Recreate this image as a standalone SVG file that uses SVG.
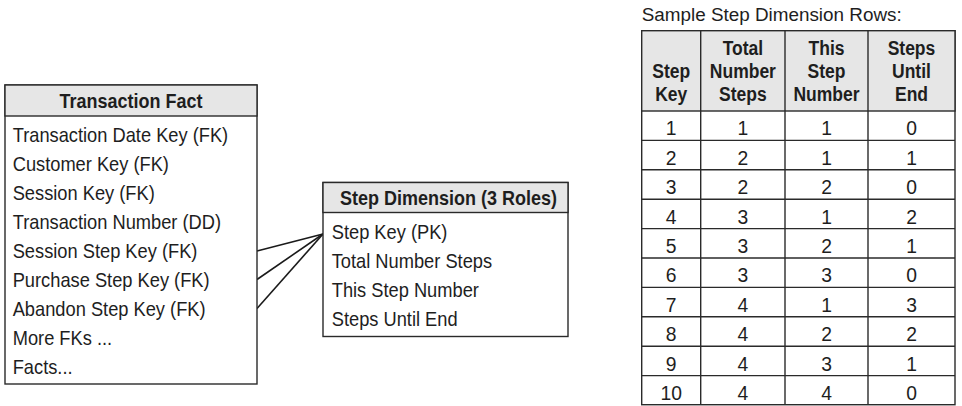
<svg xmlns="http://www.w3.org/2000/svg" width="962" height="406" viewBox="0 0 962 406">
<style>
  .box { fill: #ffffff; stroke: #2a2a2a; stroke-width: 1.4; }
  .hdr { fill: #e6e6e6; stroke: #2a2a2a; stroke-width: 1.4; }
  .ln { stroke: #2a2a2a; stroke-width: 1.4; fill: none; }
  .conn { stroke: #1a1a1a; stroke-width: 1.6; fill: none; }
  .t { font-family: "Liberation Sans", Arial, sans-serif; font-size: 21px; fill: #1e1e1e; }
  .tb { font-family: "Liberation Sans", Arial, sans-serif; font-size: 20px; font-weight: bold; fill: #1e1e1e; text-anchor: middle; }
  .th { font-family: "Liberation Sans", Arial, sans-serif; font-size: 20px; font-weight: bold; fill: #1e1e1e; text-anchor: middle; }
  .td { font-family: "Liberation Sans", Arial, sans-serif; font-size: 21px; fill: #1e1e1e; text-anchor: middle; }
  .title { font-family: "Liberation Sans", Arial, sans-serif; font-size: 18px; fill: #1e1e1e; }
</style>

<g id="connectors">
  <line class="conn" x1="257" y1="251" x2="323" y2="234"/>
  <line class="conn" x1="257" y1="279.5" x2="323" y2="234"/>
  <line class="conn" x1="257" y1="308.5" x2="323" y2="234"/>
</g>

<g id="transaction-fact">
  <rect class="box" x="5" y="85" width="252" height="299"/>
  <rect class="hdr" x="5" y="85" width="252" height="31"/>
  <g transform="scale(0.9 1)">
    <text class="tb" x="145.6" y="108.5">Transaction Fact</text>
  </g>
  <g transform="scale(0.87 1)">
    <text class="t" x="14.6" y="141.7">Transaction Date Key (FK)</text>
    <text class="t" x="14.6" y="170.7">Customer Key (FK)</text>
    <text class="t" x="14.6" y="199.7">Session Key (FK)</text>
    <text class="t" x="14.6" y="228.7">Transaction Number (DD)</text>
    <text class="t" x="14.6" y="257.7">Session Step Key (FK)</text>
    <text class="t" x="14.6" y="286.7">Purchase Step Key (FK)</text>
    <text class="t" x="14.6" y="315.7">Abandon Step Key (FK)</text>
    <text class="t" x="14.6" y="344.7">More FKs ...</text>
    <text class="t" x="14.6" y="373.7">Facts...</text>
  </g>
</g>

<g id="step-dimension">
  <rect class="box" x="323" y="182.5" width="245" height="154"/>
  <rect class="hdr" x="323" y="182.5" width="245" height="30"/>
  <g transform="scale(0.9 1)">
    <text class="tb" x="498.3" y="205.5">Step Dimension (3 Roles)</text>
  </g>
  <g transform="scale(0.87 1)">
    <text class="t" x="381.3" y="239">Step Key (PK)</text>
    <text class="t" x="381.3" y="268">Total Number Steps</text>
    <text class="t" x="381.3" y="297">This Step Number</text>
    <text class="t" x="381.3" y="326">Steps Until End</text>
  </g>
</g>

<g id="sample-rows">
  <text class="title" x="641.7" y="20.5" textLength="260" lengthAdjust="spacingAndGlyphs">Sample Step Dimension Rows:</text>
  <rect class="box" x="641.7" y="30.7" width="313.3" height="374"/>
  <rect class="hdr" x="641.7" y="30.7" width="313.3" height="80.3"/>
  <line class="ln" x1="700.7" y1="30.7" x2="700.7" y2="404.7"/>
  <line class="ln" x1="785" y1="30.7" x2="785" y2="404.7"/>
  <line class="ln" x1="868" y1="30.7" x2="868" y2="404.7"/>
  <line class="ln" x1="641.7" y1="140.4" x2="955" y2="140.4"/>
  <line class="ln" x1="641.7" y1="169.8" x2="955" y2="169.8"/>
  <line class="ln" x1="641.7" y1="199.2" x2="955" y2="199.2"/>
  <line class="ln" x1="641.7" y1="228.6" x2="955" y2="228.6"/>
  <line class="ln" x1="641.7" y1="258" x2="955" y2="258"/>
  <line class="ln" x1="641.7" y1="287.4" x2="955" y2="287.4"/>
  <line class="ln" x1="641.7" y1="316.8" x2="955" y2="316.8"/>
  <line class="ln" x1="641.7" y1="346.2" x2="955" y2="346.2"/>
  <line class="ln" x1="641.7" y1="375.6" x2="955" y2="375.6"/>
  <g transform="scale(0.875 1)">
    <text class="th" x="767.1" y="78.5">Step</text>
    <text class="th" x="767.1" y="101.5">Key</text>
    <text class="th" x="849" y="55.5">Total</text>
    <text class="th" x="849" y="78.5">Number</text>
    <text class="th" x="849" y="101.5">Steps</text>
    <text class="th" x="944.6" y="55.5">This</text>
    <text class="th" x="944.6" y="78.5">Step</text>
    <text class="th" x="944.6" y="101.5">Number</text>
    <text class="th" x="1041.7" y="55.5">Steps</text>
    <text class="th" x="1041.7" y="78.5">Until</text>
    <text class="th" x="1041.7" y="101.5">End</text>
  </g>
  <g transform="scale(0.92 1)">
    <text class="td" x="729.6" y="135.5">1</text><text class="td" x="807.5" y="135.5">1</text><text class="td" x="898.4" y="135.5">1</text><text class="td" x="990.8" y="135.5">0</text>
    <text class="td" x="729.6" y="164.9">2</text><text class="td" x="807.5" y="164.9">2</text><text class="td" x="898.4" y="164.9">1</text><text class="td" x="990.8" y="164.9">1</text>
    <text class="td" x="729.6" y="194.3">3</text><text class="td" x="807.5" y="194.3">2</text><text class="td" x="898.4" y="194.3">2</text><text class="td" x="990.8" y="194.3">0</text>
    <text class="td" x="729.6" y="223.7">4</text><text class="td" x="807.5" y="223.7">3</text><text class="td" x="898.4" y="223.7">1</text><text class="td" x="990.8" y="223.7">2</text>
    <text class="td" x="729.6" y="253.1">5</text><text class="td" x="807.5" y="253.1">3</text><text class="td" x="898.4" y="253.1">2</text><text class="td" x="990.8" y="253.1">1</text>
    <text class="td" x="729.6" y="282.5">6</text><text class="td" x="807.5" y="282.5">3</text><text class="td" x="898.4" y="282.5">3</text><text class="td" x="990.8" y="282.5">0</text>
    <text class="td" x="729.6" y="311.9">7</text><text class="td" x="807.5" y="311.9">4</text><text class="td" x="898.4" y="311.9">1</text><text class="td" x="990.8" y="311.9">3</text>
    <text class="td" x="729.6" y="341.3">8</text><text class="td" x="807.5" y="341.3">4</text><text class="td" x="898.4" y="341.3">2</text><text class="td" x="990.8" y="341.3">2</text>
    <text class="td" x="729.6" y="370.7">9</text><text class="td" x="807.5" y="370.7">4</text><text class="td" x="898.4" y="370.7">3</text><text class="td" x="990.8" y="370.7">1</text>
    <text class="td" x="729.6" y="400.1">10</text><text class="td" x="807.5" y="400.1">4</text><text class="td" x="898.4" y="400.1">4</text><text class="td" x="990.8" y="400.1">0</text>
  </g>
</g>
</svg>
